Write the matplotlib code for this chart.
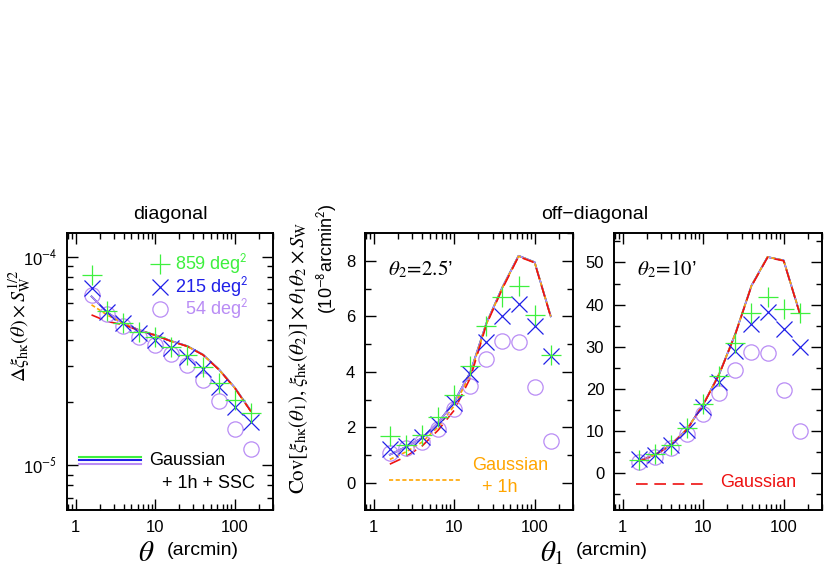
import numpy as np
import matplotlib
matplotlib.use("Agg")
import matplotlib.pyplot as plt
from matplotlib import ticker

plt.rcParams['font.family'] = ['Liberation Sans', 'DejaVu Sans']
plt.rcParams['mathtext.fontset'] = 'stix'

# angular bins (arcmin)
theta = [1.585, 2.512, 3.981, 6.310, 10.0, 15.85, 25.12, 39.81, 63.10, 100.0, 158.5]

# diagonal: Delta xi_hk * S_W^{1/2}
diag_859 = [8.2e-5, 5.5e-5, 4.8e-5, 4.37e-5, 4.1e-5, 3.7e-5, 3.38e-5, 2.97e-5, 2.49e-5, 2.05e-5, 1.78e-5]
diag_215 = [7.07e-5, 5.42e-5, 4.8e-5, 4.3e-5, 3.98e-5, 3.64e-5, 3.32e-5, 2.88e-5, 2.38e-5, 1.91e-5, 1.62e-5]
diag_54 = [6.52e-5, 5.3e-5, 4.63e-5, 4.14e-5, 3.77e-5, 3.42e-5, 3.03e-5, 2.56e-5, 2.03e-5, 1.49e-5, 1.19e-5]
diag_gauss = [5.26e-5, 4.89e-5, 4.72e-5, 4.42e-5, 4.2e-5, 3.93e-5, 3.72e-5, 3.38e-5, 2.87e-5, 2.34e-5, 1.81e-5]
diag_g1h = [5.88e-5, 5.25e-5, 4.78e-5, 4.43e-5, 4.2e-5, 3.93e-5, 3.72e-5, 3.38e-5, 2.87e-5, 2.34e-5, 1.81e-5]
diag_ssc = [6.45e-5, 5.4e-5, 4.8e-5, 4.44e-5, 4.21e-5, 3.94e-5, 3.73e-5, 3.39e-5, 2.88e-5, 2.35e-5, 1.82e-5]

# off-diagonal, theta2 = 2.5'
off25_859 = [1.69, 1.36, 1.72, 2.36, 3.18, 4.2, 5.65, 6.71, 7.08, 6.05, 4.62]
off25_215 = [1.21, 1.33, 1.64, 2.14, 2.88, 3.91, 5.07, 6.0, 6.44, 5.67, 4.57]
off25_54 = [1.07, 1.25, 1.48, 1.96, 2.65, 3.48, 4.45, 5.11, 5.07, 3.46, 1.52]
off25_gauss = [0.68, 0.95, 1.33, 1.9, 2.62, 3.78, 5.7, 7.0, 8.15, 7.93, 5.98]
off25_g1h = [0.85, 1.12, 1.47, 2.02, 2.78, 3.9, 5.72, 7.03, 8.16, 7.94, 6.0]
off25_ssc = [1.02, 1.30, 1.62, 2.17, 2.92, 3.98, 5.75, 7.05, 8.18, 7.95, 6.0]

# off-diagonal, theta2 = 10'
off10_859 = [3.1, 4.5, 6.8, 10.8, 16.5, 23.0, 31.0, 38.0, 41.8, 38.9, 38.0]
off10_215 = [3.3, 4.3, 6.7, 10.2, 15.7, 21.6, 29.1, 35.4, 38.3, 34.2, 29.9]
off10_54 = [2.7, 3.8, 5.9, 9.3, 14.1, 19.1, 24.5, 28.7, 28.5, 19.8, 10.0]
off10_gauss = [2.8, 4.3, 6.7, 10.4, 16.2, 23.5, 33.0, 44.4, 51.2, 50.4, 37.9]
off10_g1h = [2.9, 4.4, 6.8, 10.5, 16.3, 23.6, 33.1, 44.5, 51.3, 50.5, 38.0]
off10_ssc = [3.0, 4.4, 6.8, 10.5, 16.3, 23.6, 33.1, 44.5, 51.3, 50.5, 38.0]

GREEN = '#3ef03e'
BLUE = '#2020e8'
PURPLE = '#b98cf5'
ORANGE = '#ffa500'
RED = '#ee1111'

fig = plt.figure(figsize=(8.3, 5.81), dpi=100)
ax1 = fig.add_axes([0.0807, 0.1222, 0.2482, 0.4768])
ax2 = fig.add_axes([0.4398, 0.1222, 0.2506, 0.4768])
ax3 = fig.add_axes([0.7398, 0.1222, 0.2506, 0.4768])


def draw(ax, d859, d215, d54, gauss, g1h, ssc):
    ax.plot(theta, ssc, color=GREEN, lw=1.2, zorder=3)
    ax.plot(theta, ssc, color=BLUE, lw=1.2, zorder=3)
    ax.plot(theta, ssc, color=PURPLE, lw=1.2, zorder=3)
    ax.plot(theta, g1h, color=ORANGE, lw=1.2, dashes=(2.5, 1.5), zorder=3)
    ax.plot(theta, gauss, color=RED, lw=1.2, dashes=(7, 4), zorder=3)
    ax.plot(theta, d54, 'o', ms=11, mfc='none', mec=PURPLE, mew=0.9, zorder=4)
    ax.plot(theta, d215, 'x', ms=11, color=BLUE, mew=0.9, zorder=4)
    ax.plot(theta, d859, '+', ms=14, color=GREEN, mew=0.9, zorder=4)
    ax.set_xscale('log')
    ax.set_xlim(0.78, 300)
    ax.xaxis.set_major_formatter(ticker.FuncFormatter(lambda v, p: '%g' % v))
    ax.tick_params(which='both', direction='in', top=True, right=True, labelsize=12, width=1.0)
    ax.tick_params(which='major', length=8, pad=7)
    ax.tick_params(which='minor', length=4)
    for s in ax.spines.values():
        s.set_linewidth(1.4)


draw(ax1, diag_859, diag_215, diag_54, diag_gauss, diag_g1h, diag_ssc)
draw(ax2, off25_859, off25_215, off25_54, off25_gauss, off25_g1h, off25_ssc)
draw(ax3, off10_859, off10_215, off10_54, off10_gauss, off10_g1h, off10_ssc)

# left panel axes
ax1.set_yscale('log')
ax1.set_ylim(6.1e-6, 1.3e-4)
ax1.yaxis.set_major_formatter(ticker.FuncFormatter(
    lambda v, p: '10$^{\\mathsf{%d}}$' % round(np.log10(v))))
ax1.yaxis.set_minor_formatter(ticker.NullFormatter())

ax2.set_ylim(-0.97, 9.0)
ax2.yaxis.set_major_locator(ticker.MultipleLocator(2))
ax2.yaxis.set_minor_locator(ticker.MultipleLocator(1))

ax3.set_ylim(-8.7, 57)
ax3.yaxis.set_major_locator(ticker.MultipleLocator(10))
ax3.yaxis.set_minor_locator(ticker.MultipleLocator(5))

# left panel legend
lg = [(GREEN, '+', 14, '859 deg$^{\\mathsf{2}}$', 0.888),
      (BLUE, 'x', 11, '215 deg$^{\\mathsf{2}}$', 0.805),
      (PURPLE, 'o', 11, '54 deg$^{\\mathsf{2}}$', 0.726)]
for c, m, ms, lab, yy in lg:
    if m == 'o':
        ax1.plot([0.45], [yy], m, ms=ms, mfc='none', mec=c, mew=0.9, transform=ax1.transAxes)
    else:
        ax1.plot([0.45], [yy], m, ms=ms, color=c, mew=0.9, transform=ax1.transAxes)
    ax1.text(0.88, yy, lab, color=c, fontsize=13, ha='right', va='center', transform=ax1.transAxes)

for c, dy in [(GREEN, 0.013), (BLUE, 0.0), (PURPLE, -0.013)]:
    ax1.plot([0.06, 0.36], [0.18 + dy, 0.18 + dy], color=c, lw=1.5, transform=ax1.transAxes)
ax1.text(0.40, 0.18, 'Gaussian', fontsize=13, ha='left', va='center', transform=ax1.transAxes)
ax1.text(0.91, 0.095, '+ 1h + SSC', fontsize=13, ha='right', va='center', transform=ax1.transAxes)

# middle panel labels
ax2.text(0.11, 0.87, r'$\theta_2\!=\!2.5$’', fontsize=15, ha='left', va='center', transform=ax2.transAxes)
ax2.plot([0.115, 0.46], [0.108, 0.108], color=ORANGE, lw=1.2, dashes=(2.5, 1.5), transform=ax2.transAxes)
ax2.text(0.70, 0.16, 'Gaussian', color=ORANGE, fontsize=13, ha='center', va='center', transform=ax2.transAxes)
ax2.text(0.65, 0.08, '+ 1h', color=ORANGE, fontsize=13, ha='center', va='center', transform=ax2.transAxes)

# right panel labels
ax3.text(0.11, 0.87, r'$\theta_2\!=\!10$’', fontsize=15, ha='left', va='center', transform=ax3.transAxes)
ax3.plot([0.105, 0.45], [0.094, 0.094], color=RED, lw=1.2, dashes=(7, 4), transform=ax3.transAxes)
ax3.text(0.51, 0.10, 'Gaussian', color=RED, fontsize=13, ha='left', va='center', transform=ax3.transAxes)

# titles and axis labels
fig.text(0.205, 0.630, 'diagonal', fontsize=14, ha='center', va='center')
fig.text(0.717, 0.630, 'off\u2212diagonal', fontsize=14, ha='center', va='center')

fig.text(0.025, 0.44, r'$\Delta\xi_{\rm h\kappa}(\theta)\times S_{\rm W}^{1/2}$',
         fontsize=14.5, rotation=90, ha='center', va='center')
fig.text(0.360, 0.385, r'${\rm Cov}[\xi_{\rm h\kappa}(\theta_1),\xi_{\rm h\kappa}(\theta_2)]\times\theta_1\theta_2\times S_{\rm W}$',
         fontsize=15, rotation=90, ha='center', va='center')
fig.text(0.394, 0.555, '(10$^{\\mathsf{-8}}$arcmin$^{\\mathsf{2}}$)',
         fontsize=13, rotation=90, ha='center', va='center')

fig.text(0.176, 0.048, r'$\theta$', fontsize=21, ha='center', va='center')
fig.text(0.201, 0.052, '(arcmin)', fontsize=14, ha='left', va='center')
fig.text(0.665, 0.048, r'$\theta_1$', fontsize=21, ha='center', va='center')
fig.text(0.694, 0.052, '(arcmin)', fontsize=14, ha='left', va='center')

fig.savefig('out.png', dpi=100)
